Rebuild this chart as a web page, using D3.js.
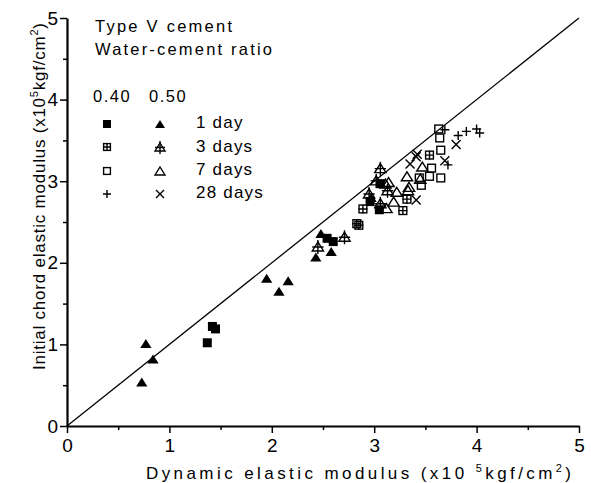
<!DOCTYPE html>
<html><head><meta charset="utf-8">
<script src="https://cdn.jsdelivr.net/npm/d3@7"></script>
<style>body{margin:0;background:#fff}svg{display:block}text{font-family:"Liberation Sans",Arial,sans-serif;fill:#000}</style>
</head><body><svg id="c" width="591" height="483"></svg>
<script>
// ---- data (x: dynamic modulus, y: chord modulus, x10^5 kgf/cm2) ----
const xTicks = [0,1,2,3,4,5];
const yTicks = [0,1,2,3,4,5];
const minorTicks = [0,0.5,1,1.5,2,2.5,3,3.5,4,4.5,5];
const legendTitle = ["Type V cement","Water-cement ratio"];
const ratioLabels = ["0.40","0.50"];
const ageLabels = ["1 day","3 days","7 days","28 days"];

const day1_w040 = [[1.42,1.22],[1.45,1.19],[1.37,1.02],[2.54,2.30],[2.60,2.26],[3.06,2.97],[2.96,2.75],[3.05,2.65]];
const day1_w050 = [[0.73,0.54],[0.77,1.01],[0.84,0.82],[1.95,1.81],[2.07,1.65],[2.16,1.78],[2.43,2.07],[2.48,2.36],[2.58,2.14],[2.97,2.80]];
const day3_w040 = [[2.85,2.46],[2.83,2.48],[2.89,2.66],[3.28,2.64],[3.32,2.78],[3.54,3.32]];
const day3_w050 = [[2.45,2.20],[2.71,2.32],[2.95,2.85],[3.02,3.01],[3.06,3.16],[3.13,2.89],[3.06,2.73]];
const day7_w040 = [[3.63,3.64],[3.64,3.53],[3.65,3.38],[3.56,3.16],[3.65,3.04],[3.54,3.06],[3.44,3.04],[3.46,2.95]];
const day7_w050 = [[3.11,2.97],[3.32,3.06],[3.47,3.18],[3.34,2.93],[3.45,3.03],[3.14,2.99],[3.22,2.87],[3.19,2.75],[3.12,2.67],[3.33,2.89]];
const day28_w040 = [[3.69,3.63],[3.82,3.56],[3.90,3.61],[4.00,3.64],[4.03,3.59],[3.72,3.20]];
const day28_w050 = [[3.80,3.45],[3.69,3.25],[3.41,2.77],[3.35,3.21],[3.42,3.33],[3.41,3.30]];
const equalityLine = [[0,0],[5,5]];

const series = [
  {data:day1_w040, sym:"fsq"},{data:day1_w050, sym:"ftri"},
  {data:day3_w040, sym:"psq"},{data:day3_w050, sym:"ptri"},
  {data:day7_w040, sym:"osq"},{data:day7_w050, sym:"otri"},
  {data:day28_w040, sym:"plus"},{data:day28_w050, sym:"cross"}
];

const svg = d3.select("#c");
const x = d3.scaleLinear().domain([0,5]).range([67,579]);
const y = d3.scaleLinear().domain([0,5]).range([426,18]);

function drawSym(g, sym, cx, cy, s){
  const h = s/2;
  const sw = 1.4;
  if(sym==="fsq"){ g.append("rect").attr("x",cx-h).attr("y",cy-h).attr("width",s).attr("height",s).attr("fill","#000"); }
  else if(sym==="osq"||sym==="psq"){
    g.append("rect").attr("x",cx-h+0.6).attr("y",cy-h+0.6).attr("width",s-1.2).attr("height",s-1.2).attr("fill","none").attr("stroke","#000").attr("stroke-width",sw);
    if(sym==="psq"){
      g.append("path").attr("d",`M${cx-h},${cy}H${cx+h}M${cx},${cy-h}V${cy+h}`).attr("stroke","#000").attr("stroke-width",sw);
    }
  }
  else if(sym==="ftri"||sym==="otri"||sym==="ptri"){
    const w = s*1.25, t = s*1.0;
    const d = `M${cx},${cy-t/2}L${cx+w/2},${cy+t/2}L${cx-w/2},${cy+t/2}Z`;
    if(sym==="ftri") g.append("path").attr("d",d).attr("fill","#000");
    else g.append("path").attr("d",d).attr("fill","none").attr("stroke","#000").attr("stroke-width",sw).attr("stroke-linejoin","miter");
    if(sym==="ptri"){
      g.append("path").attr("d",`M${cx},${cy-t/2-2}V${cy+t/2+3}M${cx-w/2},${cy+0.5}H${cx+w/2}`).attr("stroke","#000").attr("stroke-width",sw);
    }
  }
  else if(sym==="plus"){
    g.append("path").attr("d",`M${cx-h},${cy}H${cx+h}M${cx},${cy-h}V${cy+h}`).attr("stroke","#000").attr("stroke-width",sw);
  }
  else if(sym==="cross"){
    g.append("path").attr("d",`M${cx-h},${cy-h}L${cx+h},${cy+h}M${cx+h},${cy-h}L${cx-h},${cy+h}`).attr("stroke","#000").attr("stroke-width",sw);
  }
}

// equality line
svg.append("path").datum(equalityLine)
  .attr("d", d3.line().x(d=>x(d[0])).y(d=>y(d[1])))
  .attr("fill","none").attr("stroke","#000").attr("stroke-width",1.3);

// points
const pg = svg.append("g");
series.forEach(s=>{
  s.data.forEach(d=>drawSym(pg, s.sym, x(d[0]), y(d[1]), 9));
});

// axes
const isMajor = v => Math.abs(v-Math.round(v))<1e-9;
const xAxis = svg.append("g").attr("transform","translate(0,426)")
  .call(d3.axisBottom(x).tickValues(minorTicks).tickSize(7).tickFormat(()=>"").tickSizeOuter(0));
xAxis.selectAll(".tick line").attr("y2",d=>isMajor(d)?7:4).attr("stroke-width",1.5);
xAxis.select(".domain").attr("stroke-width",2.2);
const xl = svg.append("g").attr("transform","translate(0,426)")
  .call(d3.axisBottom(x).tickValues(xTicks).tickSize(0).tickPadding(13).tickFormat(d3.format("d")));
xl.select(".domain").remove();
xl.selectAll("text").attr("font-size",19).attr("font-family","Liberation Sans, Arial, sans-serif");

const yAxis = svg.append("g").attr("transform","translate(67,0)")
  .call(d3.axisLeft(y).tickValues(minorTicks).tickSize(7).tickFormat(()=>"").tickSizeOuter(0));
yAxis.selectAll(".tick line").attr("x2",d=>isMajor(d)?-7:-4).attr("stroke-width",1.5);
yAxis.select(".domain").attr("stroke-width",2.2);
const yl = svg.append("g").attr("transform","translate(67,0)")
  .call(d3.axisLeft(y).tickValues(yTicks).tickSize(0).tickPadding(9).tickFormat(d3.format("d")));
yl.select(".domain").remove();
yl.selectAll("text").attr("font-size",19).attr("font-family","Liberation Sans, Arial, sans-serif");

// axis titles
const xt = svg.append("text").attr("x",146).attr("y",479).attr("font-size",17)
  .attr("textLength",425).attr("lengthAdjust","spacing");
xt.append("tspan").text("Dynamic elastic modulus (x10 ");
xt.append("tspan").attr("font-size",11).attr("dy",-7).text("5");
xt.append("tspan").attr("dy",7).text("kgf/cm");
xt.append("tspan").attr("font-size",11).attr("dy",-7).text("2");
xt.append("tspan").attr("dy",7).text(")");

const yt = svg.append("text").attr("transform","translate(45,370) rotate(-90)").attr("font-size",17)
  .attr("textLength",347).attr("lengthAdjust","spacing");
yt.append("tspan").text("Initial chord elastic modulus (x10");
yt.append("tspan").attr("font-size",11).attr("dy",-7).text("5");
yt.append("tspan").attr("dy",7).text("kgf/cm");
yt.append("tspan").attr("font-size",11).attr("dy",-7).text("2");
yt.append("tspan").attr("dy",7).text(")");

// legend
svg.append("text").attr("x",95).attr("y",32).attr("font-size",16.5).attr("textLength",137).attr("lengthAdjust","spacing").text(legendTitle[0]);
svg.append("text").attr("x",95).attr("y",55).attr("font-size",16.5).attr("textLength",177).attr("lengthAdjust","spacing").text(legendTitle[1]);
svg.append("text").attr("x",93).attr("y",102).attr("font-size",16.5).attr("letter-spacing",1.5).text(ratioLabels[0]);
svg.append("text").attr("x",149).attr("y",102).attr("font-size",16.5).attr("letter-spacing",1.5).text(ratioLabels[1]);
const rowsY = [124,147,171,194];
const baseY = [128,152,175,198];
const legSyms = [["fsq","ftri"],["psq","ptri"],["osq","otri"],["plus","cross"]];
const lg = svg.append("g");
ageLabels.forEach((lab,i)=>{
  drawSym(lg, legSyms[i][0], 107, rowsY[i], 8);
  drawSym(lg, legSyms[i][1], 160, rowsY[i], 8);
  lg.append("text").attr("x",196).attr("y",baseY[i]).attr("font-size",17).attr("letter-spacing",1.2).text(lab);
});
</script></body></html>
